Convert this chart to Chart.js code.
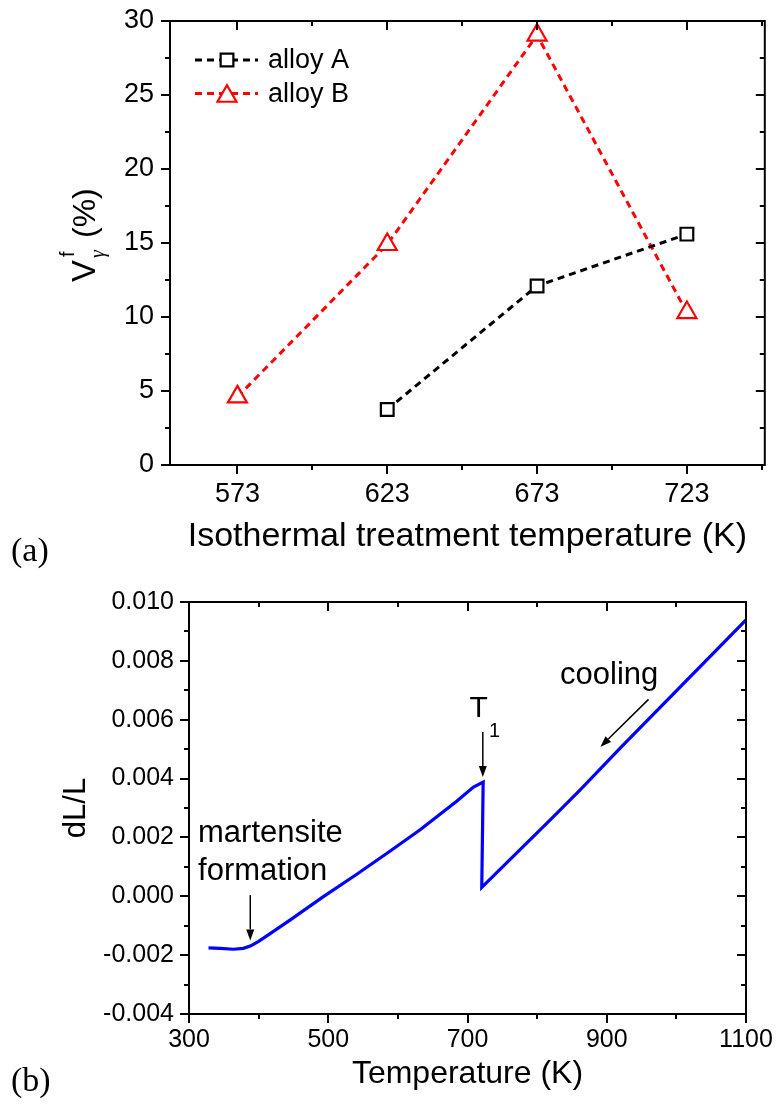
<!DOCTYPE html>
<html>
<head>
<meta charset="utf-8">
<script src="https://cdn.jsdelivr.net/npm/chart.js@4.4.1/dist/chart.umd.min.js"></script>
<style>
  html, body { margin: 0; padding: 0; background: #fff; }
  #wrap { position: relative; width: 778px; height: 1104px; }
  canvas { position: absolute; left: 0; }
</style>
</head>
<body>
<div id="wrap">
  <canvas id="panelA" width="778" height="575" style="top:0"></canvas>
  <canvas id="panelB" width="778" height="529" style="top:575px"></canvas>
</div>
<script>
// ---- panel (a): austenite fraction vs isothermal treatment temperature
const tempsA = [623, 673, 723];
const alloyA = [3.75, 12.1, 15.6];
const tempsAlloyB = [573, 623, 673, 723];
const alloyB = [4.6, 14.9, 29.05, 10.3];
const xMajorA = [573, 623, 673, 723];
const xMinorA = [598, 648, 698, 748];
const yMajorA = [0, 5, 10, 15, 20, 25, 30];
const yMinorA = [2.5, 7.5, 12.5, 17.5, 22.5, 27.5];

// ---- panel (b): dilatometry curve
const tempsB = [328, 345, 364, 378, 388, 400, 416, 445, 493, 541, 589, 632, 684, 708.6, 722.5, 720.5, 821, 861.5, 921, 1100];
const dLL = [-0.00175, -0.00177, -0.00180, -0.00177, -0.00169, -0.00153, -0.00128, -0.00081, -0.00001, 0.00075, 0.00154, 0.00226, 0.00322, 0.00371, 0.00388, 0.00030, 0.00265, 0.00361, 0.00508, 0.00939];
const xMajorB = [300, 500, 700, 900, 1100];
const xMinorB = [400, 600, 800, 1000];
const yMajorB = [-0.004, -0.002, 0, 0.002, 0.004, 0.006, 0.008, 0.010];
const yMinorB = [-0.003, -0.001, 0.001, 0.003, 0.005, 0.007, 0.009];

const FONT = "'Liberation Sans', Arial, sans-serif";
const SERIF = "'Liberation Serif', 'Times New Roman', serif";

const toPoints = (xs, ys) => xs.map((x, i) => ({ x, y: ys[i] }));

// fixed axis box; drop the label overhang so the layout padding alone places the plot
const fixBox = (w, h) => s => {
  if (w != null) s.width = w;
  if (h != null) s.height = h;
  s.paddingTop = s.paddingBottom = s.paddingLeft = s.paddingRight = 0;
};

// box frame with minor/major ticks: outward on left/bottom, inward on top/right
const frameTicks = {
  id: 'frameTicks',
  afterDatasetsDraw(chart, args, o) {
    const { ctx, chartArea: a, scales: { x, y } } = chart;
    ctx.save();
    ctx.strokeStyle = '#000';
    ctx.lineWidth = 2;
    ctx.strokeRect(a.left, a.top, a.right - a.left, a.bottom - a.top);
    ctx.beginPath();
    const xs = (vals, len) => vals.forEach(v => {
      const p = Math.round(x.getPixelForValue(v));
      ctx.moveTo(p, a.bottom); ctx.lineTo(p, a.bottom + len);
      ctx.moveTo(p, a.top); ctx.lineTo(p, a.top + len);
    });
    const ys = (vals, len) => vals.forEach(v => {
      const p = Math.round(y.getPixelForValue(v));
      ctx.moveTo(a.left - len, p); ctx.lineTo(a.left, p);
      ctx.moveTo(a.right - len, p); ctx.lineTo(a.right, p);
    });
    xs(o.xMajor, 9); xs(o.xMinor, 5);
    ys(o.yMajor, 9); ys(o.yMinor, 5);
    ctx.stroke();
    ctx.restore();
  }
};

// panel letter, (a) / (b)
const panelLabel = {
  id: 'panelLabel',
  afterDraw(chart, args, o) {
    const { ctx } = chart;
    ctx.save();
    ctx.fillStyle = '#000';
    ctx.font = '34px ' + SERIF;
    ctx.textBaseline = 'alphabetic';
    ctx.fillText(o.text, o.x, o.y);
    ctx.restore();
  }
};

// legend of panel (a): dashed line + marker + label
const lineLegend = {
  id: 'lineLegend',
  afterDraw(chart) {
    const { ctx, chartArea: a } = chart;
    chart.data.datasets.forEach((ds, i) => {
      const cy = a.top + 39 + i * 33.5;
      const x0 = a.left + 25, x1 = a.left + 88, xm = a.left + 57;
      ctx.save();
      ctx.strokeStyle = ds.borderColor;
      ctx.lineWidth = ds.borderWidth;
      ctx.setLineDash(ds.borderDash);
      ctx.beginPath();
      ctx.moveTo(x0, cy); ctx.lineTo(x1, cy);
      ctx.stroke();
      ctx.setLineDash([]);
      ctx.fillStyle = '#fff';
      ctx.strokeStyle = ds.pointBorderColor;
      ctx.lineWidth = ds.pointBorderWidth;
      const r = ds.pointRadius;
      Chart.helpers.drawPoint(ctx, { pointStyle: ds.pointStyle, radius: r, borderWidth: ds.pointBorderWidth, rotation: 0 },
        xm, ds.pointStyle === 'triangle' ? cy + r / 4 : cy);
      ctx.fillStyle = '#000';
      ctx.font = '27px ' + FONT;
      ctx.textBaseline = 'middle';
      ctx.fillText(ds.label, a.left + 98, cy + 1);
      ctx.restore();
    });
  }
};

// y title of panel (a): V with subscript gamma and superscript f
const richYTitle = {
  id: 'richYTitle',
  afterDraw(chart) {
    const { ctx, chartArea: a } = chart;
    ctx.save();
    ctx.translate(a.left - 75, (a.top + a.bottom) / 2 + 39);
    ctx.rotate(-Math.PI / 2);
    ctx.fillStyle = '#000';
    ctx.textBaseline = 'alphabetic';
    ctx.font = '33px ' + FONT;
    ctx.fillText('V', 0, 0);
    ctx.font = '20px ' + FONT;
    ctx.fillText('f', 25, -21);
    ctx.font = 'italic 20px ' + SERIF;
    ctx.fillText('\u03B3', 24, 9);
    ctx.font = '32px ' + FONT;
    ctx.fillText('(%)', 44, 0);
    ctx.restore();
  }
};

// text + arrow annotations of panel (b), anchored in data units
const notes = {
  id: 'notes',
  afterDraw(chart, args, o) {
    const { ctx, scales: { x, y } } = chart;
    ctx.save();
    ctx.fillStyle = '#000';
    ctx.strokeStyle = '#000';
    ctx.textBaseline = 'alphabetic';
    o.texts.forEach(t => {
      ctx.font = t.size + 'px ' + FONT;
      ctx.fillText(t.text, x.getPixelForValue(t.x), y.getPixelForValue(t.y));
    });
    o.arrows.forEach(ar => {
      const x0 = x.getPixelForValue(ar.from[0]), y0 = y.getPixelForValue(ar.from[1]);
      const x1 = x.getPixelForValue(ar.to[0]), y1 = y.getPixelForValue(ar.to[1]);
      const ang = Math.atan2(y1 - y0, x1 - x0);
      const hl = 11, hw = 4;
      ctx.lineWidth = 1.5;
      ctx.beginPath();
      ctx.moveTo(x0, y0);
      ctx.lineTo(x1 - Math.cos(ang) * hl, y1 - Math.sin(ang) * hl);
      ctx.stroke();
      ctx.beginPath();
      ctx.moveTo(x1, y1);
      ctx.lineTo(x1 - Math.cos(ang) * hl - Math.sin(ang) * hw, y1 - Math.sin(ang) * hl + Math.cos(ang) * hw);
      ctx.lineTo(x1 - Math.cos(ang) * hl + Math.sin(ang) * hw, y1 - Math.sin(ang) * hl - Math.cos(ang) * hw);
      ctx.closePath();
      ctx.fill();
    });
    ctx.restore();
  }
};

const tickFont = size => ({ family: FONT, size });

new Chart(document.getElementById('panelA').getContext('2d'), {
  type: 'line',
  data: {
    datasets: [{
      label: 'alloy A',
      data: toPoints(tempsA, alloyA),
      borderColor: '#000',
      borderWidth: 3,
      borderDash: [7, 5],
      pointStyle: 'rect',
      pointRadius: 9,
      pointBorderWidth: 2.2,
      pointBorderColor: '#000',
      pointBackgroundColor: '#fff',
      tension: 0
    }, {
      label: 'alloy B',
      data: toPoints(tempsAlloyB, alloyB),
      borderColor: '#ff0000',
      borderWidth: 3,
      borderDash: [7, 5],
      pointStyle: 'triangle',
      pointRadius: 11,
      pointBorderWidth: 2.2,
      pointBorderColor: '#ff0000',
      pointBackgroundColor: '#fff',
      tension: 0
    }]
  },
  options: {
    responsive: false,
    animation: false,
    devicePixelRatio: 1,
    layout: { padding: { left: 0, top: 21, right: 7, bottom: 0 } },
    plugins: {
      legend: { display: false },
      tooltip: { enabled: false },
      frameTicks: { xMajor: xMajorA, xMinor: xMinorA, yMajor: yMajorA, yMinor: yMinorA },
      panelLabel: { text: '(a)', x: 11, y: 561 }
    },
    scales: {
      x: {
        type: 'linear', min: 550.5, max: 749,
        afterBuildTicks: s => { s.ticks = xMajorA.map(v => ({ value: v })); },
        afterFit: fixBox(null, 110),
        grid: { display: false, drawTicks: false },
        border: { display: false },
        ticks: { padding: 13, color: '#000', font: tickFont(27), callback: v => String(v) },
        title: { display: true, text: 'Isothermal treatment temperature (K)', color: '#000', font: { family: FONT, size: 34 }, padding: { top: 0, bottom: 18 } }
      },
      y: {
        type: 'linear', min: 0, max: 30,
        afterBuildTicks: s => { s.ticks = yMajorA.map(v => ({ value: v })); },
        afterFit: fixBox(170, null),
        grid: { display: false, drawTicks: false },
        border: { display: false },
        ticks: { padding: 16, color: '#000', font: tickFont(27), callback: v => String(v) }
      }
    }
  },
  plugins: [frameTicks, panelLabel, lineLegend, richYTitle]
});

new Chart(document.getElementById('panelB').getContext('2d'), {
  type: 'scatter',
  data: {
    datasets: [{
      label: 'dL/L',
      data: toPoints(tempsB, dLL),
      showLine: true,
      borderColor: '#0000ff',
      borderWidth: 3.2,
      pointRadius: 0,
      tension: 0
    }]
  },
  options: {
    responsive: false,
    animation: false,
    devicePixelRatio: 1,
    layout: { padding: { left: 0, top: 27, right: 32, bottom: 0 } },
    plugins: {
      legend: { display: false },
      tooltip: { enabled: false },
      frameTicks: { xMajor: xMajorB, xMinor: xMinorB, yMajor: yMajorB, yMinor: yMinorB },
      panelLabel: { text: '(b)', x: 11, y: 516 },
      notes: {
        texts: [
          { text: 'martensite', x: 313, y: 0.00186, size: 31 },
          { text: 'formation', x: 313, y: 0.00055, size: 31 },
          { text: 'T', x: 703, y: 0.00609, size: 30 },
          { text: '1', x: 731, y: 0.00540, size: 20 },
          { text: 'cooling', x: 833, y: 0.00721, size: 31 }
        ],
        arrows: [
          { from: [388, 0.00004], to: [388, -0.00150] },
          { from: [722, 0.00558], to: [722, 0.00405] },
          { from: [960, 0.00669], to: [891, 0.00508] }
        ]
      }
    },
    scales: {
      x: {
        type: 'linear', min: 300, max: 1100,
        afterBuildTicks: s => { s.ticks = xMajorB.map(v => ({ value: v })); },
        afterFit: fixBox(null, 90),
        grid: { display: false, drawTicks: false },
        border: { display: false },
        ticks: { padding: 11, color: '#000', font: tickFont(25), callback: v => String(v) },
        title: { display: true, text: 'Temperature (K)', color: '#000', font: { family: FONT, size: 32 }, padding: { top: 0, bottom: 11 } }
      },
      y: {
        type: 'linear', min: -0.004, max: 0.010,
        afterBuildTicks: s => { s.ticks = yMajorB.map(v => ({ value: v })); },
        afterFit: fixBox(189, null),
        grid: { display: false, drawTicks: false },
        border: { display: false },
        ticks: { padding: 15, color: '#000', font: tickFont(25), callback: v => v.toFixed(3) },
        title: { display: true, text: 'dL/L', color: '#000', font: { family: FONT, size: 31 }, padding: { top: 58, bottom: 0 } }
      }
    }
  },
  plugins: [frameTicks, panelLabel, notes]
});
</script>
</body>
</html>
